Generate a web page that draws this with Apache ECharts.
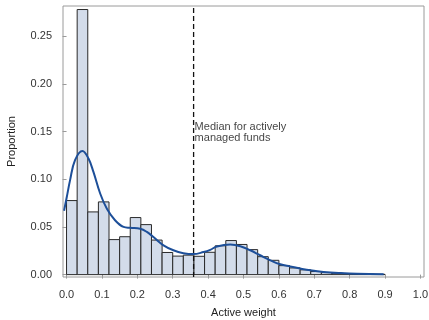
<!DOCTYPE html>
<html>
<head>
<meta charset="utf-8">
<script src="https://cdn.jsdelivr.net/npm/echarts@6/dist/echarts.min.js"></script>
<style>html,body{margin:0;padding:0;background:#fff}#c{width:429px;height:320px}</style>
</head>
<body>
<div id="c"></div>
<script>
// Histogram bins (width 0.03, starting at 0)
var binStart = 0;
var binWidth = 0.03;
var binValues = [0.0776, 0.2778, 0.0657, 0.0762, 0.0367, 0.0397, 0.0598, 0.0524, 0.0362, 0.0232,
                 0.0194, 0.0204, 0.0192, 0.0234, 0.0302, 0.0357, 0.0316, 0.0262, 0.0188, 0.0150,
                 0.0094, 0.0070, 0.0050, 0.0032, 0.0021, 0.0014, 0.0010, 0.0007, 0.0005, 0.0003];
// Density curve
var curveX = [-0.007, 0.0, 0.01, 0.024, 0.045, 0.062, 0.076, 0.095, 0.114, 0.137, 0.161, 0.18, 0.208,
              0.227, 0.2455, 0.274, 0.302, 0.33, 0.359, 0.387, 0.406, 0.425, 0.4625, 0.491, 0.519,
              0.547, 0.576, 0.604, 0.632, 0.66, 0.689, 0.726, 0.774, 0.821, 0.896];
var curveY = [0.067, 0.080, 0.099, 0.120, 0.1295, 0.1216, 0.1076, 0.085, 0.069, 0.057, 0.050, 0.049, 0.048,
              0.0447, 0.0394, 0.0307, 0.0255, 0.0225, 0.0215, 0.0237, 0.026, 0.0295, 0.0315, 0.0298, 0.0255,
              0.0203, 0.015, 0.0108, 0.0085, 0.0064, 0.0045, 0.0028, 0.0016, 0.0009, 0.0005];
var medianValue = 0.359;
var medianLabel = 'Median for actively\nmanaged funds';
var medianLabelY = 0.1485;
var xTicks = [0, 0.1, 0.2, 0.3, 0.4, 0.5, 0.6, 0.7, 0.8, 0.9, 1.0];
var yTicks = [0, 0.05, 0.10, 0.15, 0.20, 0.25];

var bars = binValues.map(function (v, i) {
  return [binStart + i * binWidth, binStart + (i + 1) * binWidth, v];
});
var curve = curveX.map(function (x, i) { return [x, curveY[i]]; });

var FONT = 'Liberation Sans';
var chart = echarts.init(document.getElementById('c'), null, {renderer: 'canvas'});
chart.setOption({
  animation: false,
  grid: {left: 63, right: 5, top: 6, bottom: 43, show: true, borderColor: '#9a9a9a', borderWidth: 1,
    backgroundColor: 'transparent', containLabel: false, outerBoundsMode: 'none'},
  xAxis: {
    type: 'value', min: -0.01, max: 1.01,
    name: 'Active weight', nameLocation: 'middle', nameGap: 30,
    nameTextStyle: {fontFamily: FONT, fontSize: 11, color: '#222'},
    axisLine: {show: false},
    axisTick: {show: true, length: 4, lineStyle: {color: '#9a9a9a'}, customValues: xTicks},
    axisLabel: {fontFamily: FONT, fontSize: 11, color: '#333', margin: 12, customValues: xTicks,
      formatter: function (v) { return v.toFixed(1); }},
    splitLine: {show: false}
  },
  yAxis: {
    type: 'value', min: -0.0025, max: 0.2815,
    name: 'Proportion', nameLocation: 'middle', nameGap: 46, nameRotate: 90,
    nameTextStyle: {fontFamily: FONT, fontSize: 11, color: '#222'},
    axisLine: {show: false},
    axisTick: {show: true, length: 4, lineStyle: {color: '#9a9a9a'}, customValues: yTicks},
    axisLabel: {fontFamily: FONT, fontSize: 11, color: '#333', margin: 11, customValues: yTicks,
      formatter: function (v) { return v.toFixed(2); }},
    splitLine: {show: false}
  },
  series: [
    {
      type: 'custom',
      data: bars,
      renderItem: function (params, api) {
        var p0 = api.coord([api.value(0), 0]);
        var p1 = api.coord([api.value(1), api.value(2)]);
        return {
          type: 'rect',
          shape: {x: p0[0], y: p1[1], width: p1[0] - p0[0], height: p0[1] - p1[1]},
          style: {fill: '#d3dcea', stroke: '#2a2a2a', lineWidth: 1}
        };
      },
      z: 2
    },
    {
      type: 'line',
      data: curve,
      smooth: 0.4,
      showSymbol: false,
      lineStyle: {color: '#1d4f99', width: 2},
      z: 3
    },
    {
      type: 'line',
      data: [[medianValue, -0.0025], [medianValue, 0.2815]],
      showSymbol: false,
      lineStyle: {color: '#111', width: 1.3, type: [5, 3]},
      z: 4
    },
    {
      type: 'scatter',
      data: [[medianValue, medianLabelY]],
      symbolSize: 0,
      label: {show: true, position: 'right', distance: 1, formatter: medianLabel,
        fontFamily: FONT, fontSize: 11, color: '#111', lineHeight: 11, align: 'left'},
      z: 5
    }
  ]
});
</script>
</body>
</html>
